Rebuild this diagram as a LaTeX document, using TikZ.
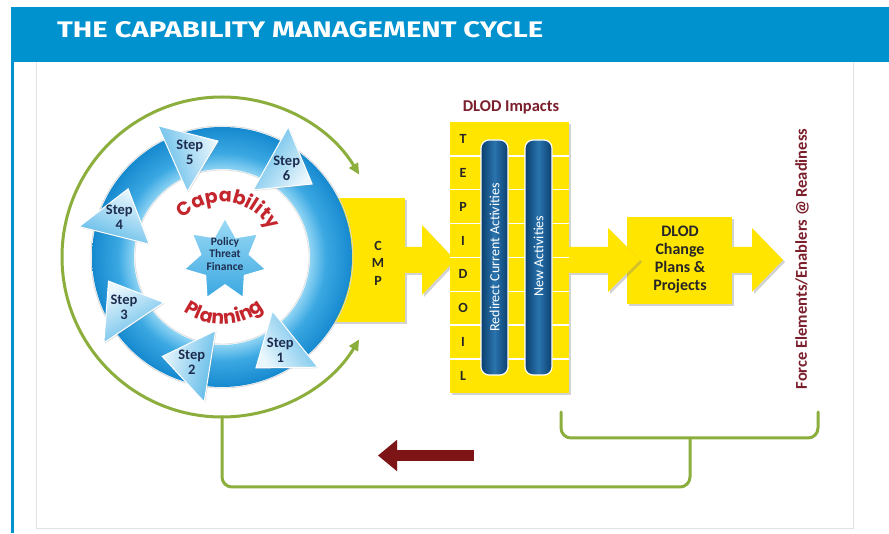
\documentclass[tikz,border=0pt]{standalone}
\usepackage{fontspec}
\setmainfont{Carlito}
\newfontfamily\titlefont{Fira Sans}
\newfontfamily\capfont{Poppins}
\usetikzlibrary{calc,arrows.meta,shapes.geometric,decorations.text,shadows}
\definecolor{hdrblue}{HTML}{0092CF}
\definecolor{ringdark}{HTML}{1689CF}
\definecolor{ringmid}{HTML}{3BA8E2}
\definecolor{ringlight}{HTML}{8FD4F4}
\definecolor{headlight}{HTML}{EAF7FD}
\definecolor{headblue}{HTML}{5CB9E8}
\definecolor{starlight}{HTML}{9CDBF6}
\definecolor{stardark}{HTML}{3AA7E0}
\definecolor{capred}{HTML}{C4262E}
\definecolor{maroon}{HTML}{7A1F2B}
\definecolor{arrowred}{HTML}{7D1416}
\definecolor{olive}{HTML}{8BAE3C}
\definecolor{yel}{HTML}{FFE500}
\definecolor{navy}{HTML}{1E2D4F}
\definecolor{darktxt}{HTML}{262626}
\definecolor{bardark}{HTML}{0B3F6E}
\definecolor{barmid}{HTML}{2A74AE}
\definecolor{panelgray}{HTML}{E2E2E2}
\pgfdeclareradialshading{ringshade}{\pgfpoint{0bp}{0bp}}{color(0bp)=(ringlight); color(16.9bp)=(ringlight); color(20bp)=(ringmid); color(25bp)=(ringdark); color(50bp)=(ringdark)}
\begin{document}
\begin{tikzpicture}[x=1pt,y=1pt,
  yelbox/.style={fill=yel, inner sep=0pt, outer sep=0pt, drop shadow={shadow xshift=2pt, shadow yshift=-2pt, opacity=0.35}},
  yelarrow/.style={fill=yel, drop shadow={shadow xshift=2pt, shadow yshift=-2pt, opacity=0.35}},
  greenline/.style={draw=olive, line width=3pt, line cap=round},
  steplabel/.style={font=\bfseries\fontsize{14.5}{15}\selectfont, text=navy, align=center, inner sep=0pt},
  darklbl/.style={font=\bfseries\fontsize{14}{17.5}\selectfont, text=darktxt, align=center, inner sep=0pt},
  headstyle/.style={draw=white, line width=1pt, drop shadow={shadow xshift=1pt, shadow yshift=-1pt, opacity=0.25}},
  barstyle/.style={rounded corners=8pt, draw=white, line width=1.2pt, left color=bardark, right color=bardark, middle color=barmid, minimum width=27pt, minimum height=235pt, inner sep=0pt},
  bartext/.style={rotate=90, text=white, font=\fontsize{14}{16}\selectfont, inner sep=0pt}
]
\useasboundingbox (0,0) rectangle (889,533);
\fill[white] (0,0) rectangle (889,533);

% header and frame
\node[fill=hdrblue, minimum width=878pt, minimum height=55pt, anchor=north west, inner sep=0pt, outer sep=0pt] (header) at (11,526) {};
\node[anchor=south west, inner sep=0pt, text=white] (title) at (57,495) {\resizebox{486pt}{16pt}{\titlefont\bfseries THE CAPABILITY MANAGEMENT CYCLE}};
\fill[hdrblue] (11,0) rectangle (14,471);
\draw[panelgray, line width=1pt] (36,471) -- (36,5) -- (853,5) -- (853,471);

\coordinate (C) at (222,276);

% CMP box (under the ring)
\node[yelbox, minimum width=75pt, minimum height=124pt] (cmp) at (367.5,273) {};
\node[darklbl] (cmplbl) at (378,270) {C\\M\\P};
\path[yelarrow] (405,286) -- (422,286) -- (422,308) -- (455,273) -- (422,238) -- (422,260) -- (405,260) -- cycle;

% blue ring
\shade[shading=ringshade, even odd rule] (C) circle[radius=130] (C) circle[radius=88];
\draw[black!15, line width=0.8pt] (C) circle[radius=131];
\draw[black!12, line width=0.8pt] (C) circle[radius=87];

% arrow heads with step labels
\foreach \n/\a in {1/-58, 2/-106, 3/-153, 4/-201, 5/-253, 6/-306} {
  \pgfmathsetmacro\sa{\a-180}
  \path[headstyle, top color=headlight, bottom color=headblue, shading angle=\sa]
    ($(C)+(\a+9:146)$) -- ($(C)+(\a-15:116)$) -- ($(C)+(\a+11:74)$) -- cycle;
  \node[steplabel] (s\n) at ($(C)+(\a:110)$) {Step\\\n};
}

% centre star and words
\node[star, star points=7, star point ratio=1.68, minimum size=84pt, inner sep=0pt, draw=white, line width=1.5pt, top color=starlight, bottom color=stardark] (star) at (225,273) {};
\node[font=\bfseries\fontsize{11.5}{12.5}\selectfont, text=navy, align=center, inner sep=0pt] (startext) at (225,279) {Policy\\Threat\\Finance};
\path[decorate, decoration={text along path, text={|\capfont\bfseries\fontsize{19}{19}\selectfont|Capability}, text align=center, text color=capred}]
  ($(C)+(145:55)$) arc[start angle=145, end angle=19, radius=55];
\path[decorate, decoration={text along path, text={|\capfont\bfseries\fontsize{19}{19}\selectfont|Planning}, text align=center, text color=capred}]
  ($(C)+(-143:67)$) arc[start angle=-143, end angle=-33, radius=67];

% green circle arrows
\coordinate (gb) at ($(C)+(-90:160)$);
\draw[greenline, -{Triangle[length=11pt,width=10pt]}] (gb) arc[start angle=-90, end angle=-329, radius=160];
\draw[greenline, -{Triangle[length=11pt,width=10pt]}] (gb) arc[start angle=-90, end angle=-31, radius=160];

% DLOD impacts panel
\node[font=\bfseries\fontsize{16.5}{18}\selectfont, text=maroon, inner sep=0pt] (impacts) at (511,426) {DLOD Impacts};
\node[yelbox, minimum width=119pt, minimum height=271pt, anchor=south west] (tep) at (450,140) {};
\foreach \k in {1,...,7} {
  \draw[white, line width=1.5pt] ($(tep.south west)+(0,\k*33.875)$) -- ($(tep.south east)+(0,\k*33.875)$);
}
\foreach \l [count=\j from 0] in {T,E,P,I,D,O,I,L} {
  \node[darklbl] (row\j) at (463,{411-(\j+0.5)*33.875}) {\l};
}
\node[barstyle] (bar1) at (494.5,275.5) {};
\node[barstyle] (bar2) at (538.5,275.5) {};
\node[bartext] at (bar1) {Redirect Current Activities};
\node[bartext] at (538.5,277) {New Activities};

% DLOD change box and arrows
\node[yelbox, minimum width=105pt, minimum height=87pt] (dlod) at (679.5,272.5) {};
\path[yelarrow] (569,286) -- (608,286) -- (608,305) -- (640,273) -- (608,241) -- (608,260) -- (569,260) -- cycle;
\node[font=\bfseries\fontsize{16}{18}\selectfont, text=darktxt, align=center, inner sep=0pt] (dlodtext) at (680,273) {DLOD\\Change\\Plans \&\\Projects};
\path[yelarrow] (732,286) -- (752,286) -- (752,305) -- (783,273) -- (752,241) -- (752,260) -- (732,260) -- cycle;
\node[rotate=90, font=\bfseries\fontsize{16.5}{18}\selectfont, text=maroon, inner sep=0pt] (force) at (802,274) {Force Elements/Enablers @ Readiness};

% feedback loop
\coordinate (bl) at (561,121);
\coordinate (br) at (818,121);
\coordinate (bj) at (690,95);
\draw[greenline, rounded corners=10pt] (bl) -- (561,95) -- (818,95) -- (br);
\draw[greenline, rounded corners=10pt] (gb) -- (222,46) -- (690,46) -- (bj);

% red return arrow
\coordinate (ra1) at (474,77.5);
\coordinate (ra2) at (378,77.5);
\draw[line width=11pt, black!25, -{Triangle[length=19pt,width=30pt]}, shift={(1.5,-1.5)}] (ra1) -- (ra2);
\draw[line width=11pt, arrowred, -{Triangle[length=19pt,width=30pt]}] (ra1) -- (ra2);
\end{tikzpicture}
\end{document}
